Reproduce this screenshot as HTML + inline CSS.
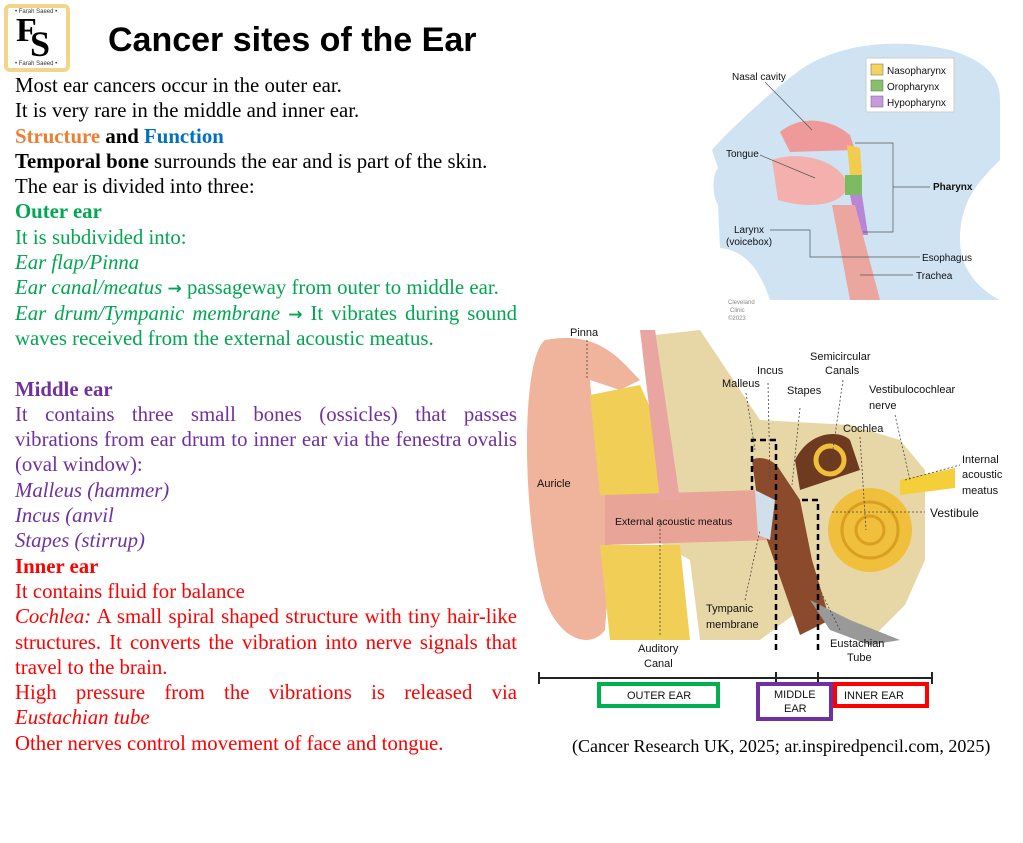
<!DOCTYPE html>
<html><head><meta charset="utf-8"><style>
*{margin:0;padding:0;box-sizing:border-box}
body{width:1023px;height:843px;background:#fff;position:relative;overflow:hidden;font-family:"Liberation Serif",serif}
#txt{position:absolute;left:15px;top:73px;width:502px;font-size:20.8px;line-height:25.3px;color:#000}
#txt p{margin:0;height:auto;text-align:justify;text-align-last:left}
.g{color:#00a651}.p{color:#7030a0}.r{color:#ff0000}.o{color:#ed7d31}.b{color:#0070c0}
.ar{font-weight:bold;font-family:"DejaVu Sans",sans-serif;font-size:17px;line-height:0;vertical-align:baseline}
h1{position:absolute;left:108px;top:21px;font-family:"Liberation Sans",sans-serif;font-size:34px;font-weight:bold;color:#000}
.lbl{font-family:"Liberation Sans",sans-serif;font-size:11px;fill:#111}
</style></head><body>
<div style="position:absolute;left:4px;top:4px;width:66px;height:68px;border:4px solid #f2d58a;border-radius:6px;background:#fff"></div>
<div style="position:absolute;left:15px;top:9px;font-family:'Liberation Sans',sans-serif;font-size:6px;color:#333">• Farah Saeed •</div>
<div style="position:absolute;left:15px;top:61px;font-family:'Liberation Sans',sans-serif;font-size:6px;color:#333">• Farah Saeed •</div>
<div style="position:absolute;left:16px;top:14px;font-size:34px;font-weight:bold;font-family:'Liberation Serif',serif;line-height:34px">F</div>
<div style="position:absolute;left:30px;top:26px;font-size:36px;font-weight:bold;font-family:'Liberation Serif',serif;line-height:36px">S</div>
<h1>Cancer sites of the Ear</h1>
<div id="txt">
<p>Most ear cancers occur in the outer ear.</p>
<p>It is very rare in the middle and inner ear.</p>
<p><b class="o">Structure</b> <b>and</b> <b class="b">Function</b></p>
<p><b>Temporal bone</b> surrounds the ear and is part of the skin.</p>
<p>The ear is divided into three:</p>
<p class="g"><b>Outer ear</b></p>
<p class="g">It is subdivided into:</p>
<p class="g"><i>Ear flap/Pinna</i></p>
<p class="g"><i>Ear canal/meatus</i> <span class="ar">→</span> passageway from outer to middle ear.</p>
<p class="g"><i>Ear drum/Tympanic membrane</i> <span class="ar">→</span> It vibrates during sound waves received from the external acoustic meatus.</p>
<p>&nbsp;</p>
<p class="p"><b>Middle ear</b></p>
<p class="p">It contains three small bones (ossicles) that passes vibrations from ear drum to inner ear via the fenestra ovalis (oval window):</p>
<p class="p"><i>Malleus (hammer)</i></p>
<p class="p"><i>Incus (anvil</i></p>
<p class="p"><i>Stapes (stirrup)</i></p>
<p class="r"><b>Inner ear</b></p>
<p class="r">It contains fluid for balance</p>
<p class="r"><i>Cochlea:</i> A small spiral shaped structure with tiny hair-like structures. It converts the vibration into nerve signals that travel to the brain.</p>
<p class="r">High pressure from the vibrations is released via <i>Eustachian tube</i></p>
<p class="r">Other nerves control movement of face and tongue.</p>
</div>
<div style="position:absolute;left:572px;top:736px;font-size:18px">(Cancer Research UK, 2025; ar.inspiredpencil.com, 2025)</div>
<svg width="1023" height="843" style="position:absolute;left:0;top:0">
<path d="M770,300 C760,270 745,250 720,248 L718,205 C712,195 712,175 718,168 L712,150 C720,140 760,100 800,70 C840,42 900,38 950,50 C990,62 1000,80 1000,100 L1000,160 C980,180 960,200 960,240 C960,270 980,290 1000,300 Z" fill="#cfe3f3"/>
<path d="M780,132 C800,115 830,118 850,135 L855,150 L790,152 Z" fill="#ef9a9a"/>
<path d="M772,160 C800,150 840,160 848,185 C845,205 810,210 778,200 Z" fill="#f4b0ad"/>
<path d="M847,145 L860,148 L862,175 L850,175 Z" fill="#f2cc4f"/>
<path d="M845,175 L862,175 L862,195 L845,195 Z" fill="#7dbb62"/>
<path d="M850,195 L862,195 L868,235 L858,235 Z" fill="#b985d6"/>
<path d="M832,205 L855,205 L880,300 L850,300 Z" fill="#eca6a0"/>
<rect x="866" y="58" width="88" height="54" fill="#fff" stroke="#ccc"/>
<rect x="871" y="64" width="12" height="11" fill="#f5d35d" stroke="#666" stroke-width=".5"/>
<rect x="871" y="80" width="12" height="11" fill="#86c06b" stroke="#666" stroke-width=".5"/>
<rect x="871" y="96" width="12" height="11" fill="#c79ae0" stroke="#666" stroke-width=".5"/>
<text class="lbl" x="887" y="74" style="font-size:10px">Nasopharynx</text>
<text class="lbl" x="887" y="90" style="font-size:10px">Oropharynx</text>
<text class="lbl" x="887" y="106" style="font-size:10px">Hypopharynx</text>
<text class="lbl" x="732" y="80" style="font-size:10px">Nasal cavity</text>
<text class="lbl" x="726" y="157" style="font-size:10px">Tongue</text>
<text class="lbl" x="734" y="233" style="font-size:10px">Larynx</text>
<text class="lbl" x="726" y="245" style="font-size:10px">(voicebox)</text>
<text class="lbl" x="933" y="190" style="font-size:10px;font-weight:bold">Pharynx</text>
<text class="lbl" x="922" y="261" style="font-size:10px">Esophagus</text>
<text class="lbl" x="916" y="279" style="font-size:10px">Trachea</text>
<g stroke="#555" stroke-width=".7" fill="none">
<path d="M765,82 L812,130"/><path d="M760,155 L815,178"/><path d="M770,230 L810,230 L810,257 L920,257"/>
<path d="M855,143 L893,143 L893,232 L863,232 M893,187 L930,187"/><path d="M860,275 L913,275"/>
</g>
<text class="lbl" x="728" y="304" style="font-size:6px;fill:#888">Cleveland</text>
<text class="lbl" x="730" y="312" style="font-size:6px;fill:#888">Clinic</text>
<text class="lbl" x="728" y="320" style="font-size:6px;fill:#888">©2023</text>
<path d="M655,335 L700,330 L760,420 L850,425 L900,440 L925,470 L925,560 L905,605 L870,640 L830,620 L800,610 L760,640 L700,640 L690,560 L655,540 Z" fill="#e8d7a6"/>
<path d="M545,340 C520,360 522,520 545,600 C560,640 590,650 605,630 L610,560 L610,470 L595,440 L590,380 L620,390 L640,380 C620,360 600,330 545,340 Z" fill="#efb49b"/>
<path d="M590,395 L640,385 L660,430 L680,500 L600,495 Z" fill="#f1cf57"/>
<path d="M600,545 L680,545 L690,640 L610,640 Z" fill="#f1cf57"/>
<path d="M605,495 L760,490 L775,540 L605,545 Z" fill="#e9a498"/>
<path d="M640,330 L655,330 L680,500 L660,500 Z" fill="#e9a5a0"/>
<path d="M752,460 C760,455 775,460 780,470 L800,500 L812,560 L830,620 L800,635 L760,520 Z" fill="#8b4a2b"/>
<path d="M795,460 C810,430 840,430 850,440 L860,470 L800,490 Z" fill="#6e3a20"/>
<circle cx="870" cy="530" r="42" fill="#f0bf3c"/>
<circle cx="870" cy="530" r="28" fill="none" stroke="#d99f20" stroke-width="3"/>
<circle cx="870" cy="530" r="14" fill="none" stroke="#d99f20" stroke-width="3"/>
<circle cx="830" cy="460" r="14" fill="none" stroke="#f0bf3c" stroke-width="5"/>
<path d="M900,480 L955,468 L955,488 L900,495 Z" fill="#f4cf3a"/>
<path d="M755,490 L775,500 L770,540 L758,535 Z" fill="#cfe0ea"/>
<path d="M810,600 L850,620 L900,640 L870,645 L830,630 Z" fill="#999"/>
<g stroke="#000" stroke-width="2.5" stroke-dasharray="6,4" fill="none"><path d="M776,650 L776,440 L752,440 L752,490"/><path d="M818,650 L818,500 L800,500"/></g>
<g stroke="#444" stroke-width=".8" stroke-dasharray="2,2" fill="none"><path d="M587,340 L587,378"/><path d="M660,525 L660,635"/><path d="M768,383 L770,480"/><path d="M746,393 L755,450"/><path d="M800,408 L792,485"/><path d="M843,380 L830,470"/><path d="M895,415 L910,480"/><path d="M860,437 L866,530"/><path d="M832,512 L925,512"/><path d="M745,600 L760,530"/><path d="M840,630 L820,590"/><path d="M905,480 L960,465"/></g>
<text class="lbl" x="570" y="336">Pinna</text>
<text class="lbl" x="537" y="487">Auricle</text>
<text class="lbl" x="615" y="525" style="font-size:10.5px">External acoustic meatus</text>
<text class="lbl" x="706" y="612">Tympanic</text>
<text class="lbl" x="706" y="628">membrane</text>
<text class="lbl" x="638" y="652">Auditory</text>
<text class="lbl" x="644" y="667">Canal</text>
<text class="lbl" x="722" y="387">Malleus</text>
<text class="lbl" x="757" y="374">Incus</text>
<text class="lbl" x="787" y="394">Stapes</text>
<text class="lbl" x="810" y="360">Semicircular</text>
<text class="lbl" x="825" y="374">Canals</text>
<text class="lbl" x="869" y="393">Vestibulocochlear</text>
<text class="lbl" x="869" y="409">nerve</text>
<text class="lbl" x="843" y="432">Cochlea</text>
<text class="lbl" x="962" y="463">Internal</text>
<text class="lbl" x="962" y="478">acoustic</text>
<text class="lbl" x="962" y="494">meatus</text>
<text class="lbl" x="930" y="517" style="font-size:12px">Vestibule</text>
<text class="lbl" x="830" y="647">Eustachian</text>
<text class="lbl" x="847" y="661">Tube</text>
<g stroke="#222" stroke-width="2"><path d="M539,678 L932,678"/><path d="M539,672 L539,684"/><path d="M932,672 L932,684"/><path d="M776,672 L776,684"/><path d="M818,672 L818,684"/></g>
<rect x="599" y="684" width="119" height="22" fill="none" stroke="#00b050" stroke-width="4"/>
<rect x="758" y="684" width="73" height="35" fill="none" stroke="#7030a0" stroke-width="4"/>
<rect x="835" y="684" width="92" height="22" fill="none" stroke="#ff0000" stroke-width="4"/>
<text class="lbl" x="627" y="699">OUTER EAR</text>
<text class="lbl" x="774" y="698">MIDDLE</text>
<text class="lbl" x="784" y="712">EAR</text>
<text class="lbl" x="844" y="699">INNER EAR</text>
</svg>
</body></html>
